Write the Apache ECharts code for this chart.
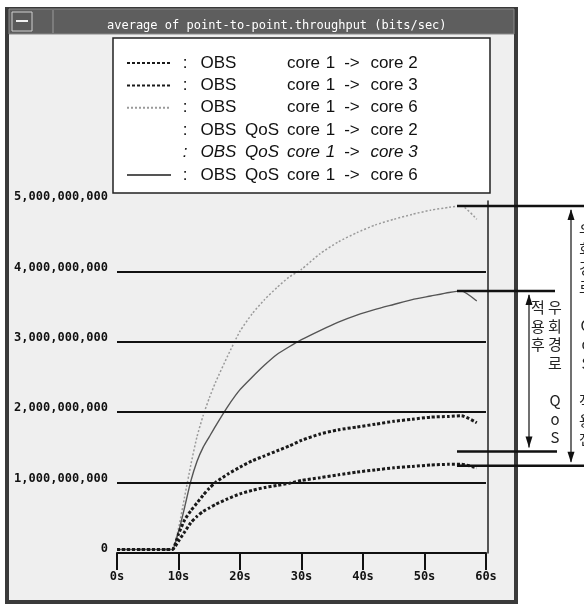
<!DOCTYPE html>
<html>
<head>
<meta charset="utf-8">
<script src="https://cdn.jsdelivr.net/npm/echarts@6/dist/echarts.min.js"></script>
<style>
html,body{margin:0;padding:0;background:#fff;}
#c{width:584px;height:608px;}
</style>
</head>
<body>
<div id="c"></div>
<script>
// ---- data ----
const times = [0, 2, 4, 6, 8, 9, 10, 11, 12, 13, 14, 15, 16, 18, 20, 22, 24, 26, 28, 30, 33, 36, 39, 42, 45, 48, 51, 54, 56, 58.5];
const obsCore2 = [0.05e9, 0.05e9, 0.05e9, 0.05e9, 0.05e9, 0.05e9, 0.27e9, 0.47e9, 0.60e9, 0.71e9, 0.82e9, 0.92e9, 1.00e9, 1.12e9, 1.22e9, 1.31e9, 1.38e9, 1.45e9, 1.52e9, 1.60e9, 1.69e9, 1.75e9, 1.79e9, 1.83e9, 1.87e9, 1.90e9, 1.93e9, 1.94e9, 1.95e9, 1.85e9];
const obsCore3 = [0.05e9, 0.05e9, 0.05e9, 0.05e9, 0.05e9, 0.05e9, 0.17e9, 0.30e9, 0.43e9, 0.52e9, 0.59e9, 0.64e9, 0.69e9, 0.77e9, 0.84e9, 0.89e9, 0.93e9, 0.96e9, 0.99e9, 1.03e9, 1.07e9, 1.11e9, 1.15e9, 1.18e9, 1.21e9, 1.23e9, 1.25e9, 1.26e9, 1.26e9, 1.21e9];
const obsCore6 = [0.05e9, 0.05e9, 0.05e9, 0.05e9, 0.05e9, 0.05e9, 0.35e9, 0.80e9, 1.25e9, 1.65e9, 1.95e9, 2.20e9, 2.42e9, 2.80e9, 3.15e9, 3.40e9, 3.60e9, 3.77e9, 3.92e9, 4.03e9, 4.25e9, 4.42e9, 4.55e9, 4.66e9, 4.74e9, 4.81e9, 4.87e9, 4.91e9, 4.93e9, 4.74e9];
const qosCore2 = [];
const qosCore3 = [];
const qosCore6 = [0.05e9, 0.05e9, 0.05e9, 0.05e9, 0.05e9, 0.05e9, 0.30e9, 0.65e9, 1.02e9, 1.30e9, 1.50e9, 1.65e9, 1.80e9, 2.08e9, 2.32e9, 2.50e9, 2.67e9, 2.82e9, 2.93e9, 3.03e9, 3.16e9, 3.28e9, 3.38e9, 3.46e9, 3.53e9, 3.60e9, 3.65e9, 3.70e9, 3.72e9, 3.58e9];
const seriesNames = ['OBS core 1 -> core 2', 'OBS core 1 -> core 3', 'OBS core 1 -> core 6',
                     'OBS QoS core 1 -> core 2', 'OBS QoS core 1 -> core 3', 'OBS QoS core 1 -> core 6'];
const gridValues = [1e9, 2e9, 3e9, 4e9];
const xTicks = [0, 10, 20, 30, 40, 50, 60];
const bracketValues = [4.93e9, 3.72e9, 1.44e9, 1.24e9];
const titleText = 'average of point-to-point.throughput (bits/sec)';
const innerTextRight = '우\n회\n경\n로\n\nQ\no\nS';
const innerTextLeft = '적\n용\n후';
const outerText = '우\n회\n경\n로\n\nQ\no\nS\n\n적\n용\n전';

const pairs = arr => arr.map((v, i) => [times[i], v]);

const mono = '"DejaVu Sans Mono", monospace';
const sans = '"Liberation Sans", Arial, sans-serif';

const chart = echarts.init(document.getElementById('c'), null, {renderer: 'canvas'});

function richSet(italic) {
  const base = {fontSize: 17, fontFamily: sans, color: '#111', lineHeight: 20, fontStyle: italic ? 'italic' : 'normal'};
  return {
    c: Object.assign({}, base, {width: 18, align: 'center'}),
    o: Object.assign({}, base, {width: 49}),
    q: Object.assign({}, base, {width: 38}),
    k: Object.assign({}, base, {width: 45}),
    n: Object.assign({}, base, {width: 9}),
    a: Object.assign({}, base, {width: 34, fontStyle: 'normal'}),
    d: Object.assign({}, base, {width: 50})
  };
}
const richN = richSet(false), richI = richSet(true);
const rich = {};
Object.keys(richN).forEach(k => { rich[k] = richN[k]; rich[k + 'i'] = richI[k]; });

const option = {
  backgroundColor: '#ffffff',
  animation: false,
  title: {
    text: titleText,
    left: 102, top: 14,
    textStyle: {color: '#ffffff', fontFamily: mono, fontSize: 12, fontWeight: 'normal', lineHeight: 14},
    z: 20
  },
  legend: {
    orient: 'vertical',
    left: 113, top: 38,
    padding: [15, 71, 8, 13],
    backgroundColor: '#ffffff',
    borderColor: '#222',
    borderWidth: 1.5,
    itemWidth: 44, itemHeight: 10, itemGap: 2.4,
    itemStyle: {opacity: 0},
    data: seriesNames,
    formatter: function (name) {
      const qos = name.indexOf('QoS') >= 0;
      const dst = name.slice(-6);
      const s = (name === 'OBS QoS core 1 -> core 3') ? 'i' : '';
      return '{c' + s + '|:}{o' + s + '|OBS}{q' + s + '|' + (qos ? 'QoS' : ' ') + '}{k' + s + '|core}{n' + s + '|1}{a' + s + '|->}{d' + s + '|' + dst + '}';
    },
    textStyle: {rich: rich, fontSize: 17, lineHeight: 20},
    selectedMode: false,
    z: 6
  },
  grid: {left: 117, right: 98, top: 201, bottom: 55, containLabel: false},
  xAxis: {
    type: 'value', min: 0, max: 60, interval: 10,
    axisLine: {show: true, lineStyle: {color: '#111', width: 2}},
    axisTick: {show: true, length: 17, lineStyle: {color: '#111', width: 2}},
    axisLabel: {margin: 18, fontFamily: mono, fontWeight: 'bold', fontSize: 12, color: '#111',
                formatter: v => (xTicks.indexOf(v) >= 0 ? v + 's' : '')},
    splitLine: {show: false}
  },
  yAxis: [{
    type: 'value', min: 0, max: 5e9, interval: 1e9,
    axisLine: {show: false}, axisTick: {show: false}, splitLine: {show: false},
    axisLabel: {margin: 9, fontFamily: mono, fontWeight: 'bold', fontSize: 12, color: '#111',
                verticalAlign: 'bottom', lineHeight: 8,
                formatter: v => v.toLocaleString('en-US')}
  }, {
    type: 'value', min: 0, max: 5e9, position: 'right', offset: 2,
    axisLine: {show: true, lineStyle: {color: '#222', width: 1.5}},
    axisTick: {show: false}, axisLabel: {show: false}, splitLine: {show: false}
  }],
  series: [
    {
      name: seriesNames[0], type: 'line', data: pairs(obsCore2), symbol: 'none', smooth: 0.2, z: 5,
      lineStyle: {color: '#1a1a1a', width: 3, type: [3, 2], cap: 'butt'},
      itemStyle: {color: '#1a1a1a'},
      markLine: {
        silent: true, symbol: ['none', 'none'], label: {show: false},
        lineStyle: {color: '#111', width: 2, type: 'solid'},
        data: gridValues.map(v => ({yAxis: v}))
      }
    },
    {
      name: seriesNames[1], type: 'line', data: pairs(obsCore3), symbol: 'none', smooth: 0.2, z: 5,
      lineStyle: {color: '#1a1a1a', width: 3, type: [3, 2], cap: 'butt'},
      itemStyle: {color: '#1a1a1a'}
    },
    {
      name: seriesNames[2], type: 'line', data: pairs(obsCore6), symbol: 'none', smooth: 0.2, z: 4,
      lineStyle: {color: '#9a9a9a', width: 1.5, type: [2, 2]},
      itemStyle: {color: '#9a9a9a'}
    },
    {
      name: seriesNames[3], type: 'line', data: pairs(qosCore2), symbol: 'none',
      lineStyle: {color: 'rgba(0,0,0,0)', width: 1}, itemStyle: {color: 'rgba(0,0,0,0)'}
    },
    {
      name: seriesNames[4], type: 'line', data: pairs(qosCore3), symbol: 'none',
      lineStyle: {color: 'rgba(0,0,0,0)', width: 1}, itemStyle: {color: 'rgba(0,0,0,0)'}
    },
    {
      name: seriesNames[5], type: 'line', data: pairs(qosCore6), symbol: 'none', smooth: 0.2, z: 4,
      lineStyle: {color: '#555555', width: 1.4},
      itemStyle: {color: '#555555'}
    }
  ]
};
chart.setOption(option);

// ---- decorations: window frame, title bar, bracket annotations ----
const py = v => chart.convertToPixel({yAxisIndex: 0}, v);
const yb = bracketValues.map(py);
const lineEl = (x1, y1, x2, y2, w, c, z) => ({type: 'line', shape: {x1, y1, x2, y2}, style: {stroke: c || '#111', lineWidth: w}, z: z || 30, silent: true});
const triUp = (x, y) => ({type: 'polygon', shape: {points: [[x, y], [x - 3.5, y + 11], [x + 3.5, y + 11]]}, style: {fill: '#111'}, z: 30, silent: true});
const triDown = (x, y) => ({type: 'polygon', shape: {points: [[x, y], [x - 3.5, y - 11], [x + 3.5, y - 11]]}, style: {fill: '#111'}, z: 30, silent: true});
const txt = (x, yTop, text, lh) => ({type: 'text', x: x, y: yTop, z: 30, silent: true,
  style: {text: text, fontSize: 15, fontFamily: '"Noto Sans CJK KR", sans-serif', fill: '#222', align: 'center', verticalAlign: 'top', lineHeight: lh}});

const elements = [
  // window body
  {type: 'rect', shape: {x: 7, y: 9, width: 509, height: 593}, style: {fill: '#efefef', stroke: '#3a3a3a', lineWidth: 4}, z: -10, silent: true},
  // title bar
  {type: 'rect', shape: {x: 9, y: 9, width: 505, height: 25}, style: {fill: '#5e5e5e', stroke: '#8a8a8a', lineWidth: 1}, z: -9, silent: true},
  {type: 'rect', shape: {x: 12, y: 12, width: 20, height: 19}, style: {fill: '#5a5a5a', stroke: '#cfcfcf', lineWidth: 1}, z: -8, silent: true},
  lineEl(16, 21, 28, 21, 2, '#f0f0f0', -7),
  lineEl(53, 10, 53, 33, 1, '#9a9a9a', -8),
  // bracket horizontal lines
  lineEl(457, yb[0], 584, yb[0], 2.5),
  lineEl(457, yb[1], 555, yb[1], 2.5),
  lineEl(457, yb[2], 557, yb[2], 2.5),
  lineEl(457, yb[3], 584, yb[3], 2.5),
  // inner arrow
  lineEl(529, yb[1] + 4, 529, yb[2] - 4, 1.2),
  triUp(529, yb[1] + 3),
  triDown(529, yb[2] - 4),
  // outer arrow
  lineEl(571, yb[0] + 4, 571, yb[3] - 4, 1.2),
  triUp(571, yb[0] + 3),
  triDown(571, yb[3] - 3),
  // texts
  txt(555, 298, innerTextRight, 18.6),
  txt(538, 298, innerTextLeft, 18.6),
  txt(586, 220.5, outerText, 19)
];
chart.setOption({graphic: {elements: elements}});
</script>
</body>
</html>
